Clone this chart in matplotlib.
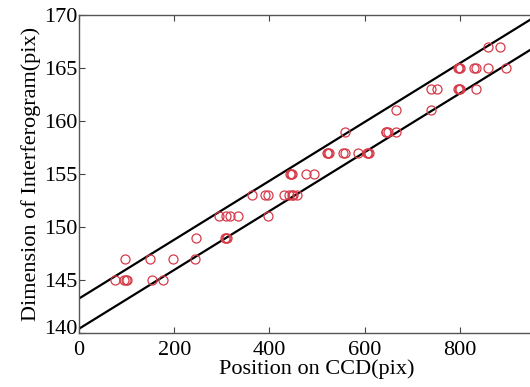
import numpy as np
import matplotlib.pyplot as plt
import matplotlib.transforms as mtransforms

plt.rcParams['font.family'] = ['Liberation Serif', 'DejaVu Serif']

# measured points (x = CCD position, y = interferogram size); repeats give the bold rings
pos_x = [75, 95, 98, 100, 153, 176,
         97, 149, 198, 244,
         245, 306, 309, 311,
         294, 308, 318, 333, 398,
         363, 391, 398, 431, 442, 447, 449, 459,
         443, 446, 448, 477, 494,
         520, 523, 525, 555, 558, 587, 604, 607, 610,
         559, 644, 646, 649, 666,
         665, 739,
         739, 753, 796, 799, 801, 833,
         796, 799, 801, 830, 833, 860, 898,
         860, 884]
pos_y = [145, 145, 145, 145, 145, 145,
         147, 147, 147, 147,
         149, 149, 149, 149,
         151, 151, 151, 151, 151,
         153, 153, 153, 153, 153, 153, 153, 153,
         155, 155, 155, 155, 155,
         157, 157, 157, 157, 157, 157, 157, 157, 157,
         159, 159, 159, 159, 159,
         161, 161,
         163, 163, 163, 163, 163, 163,
         165, 165, 165, 165, 165, 165, 165,
         167, 167]

# bounding fit lines
slope = 0.02775
upper_icpt = 143.25
lower_icpt = 140.4

fig = plt.figure(figsize=(5.30, 3.87), dpi=100)
ax = fig.add_axes([79/530, 54/387, 476/530, 318/387])

xx = np.array([0, 1000])
ax.plot(xx, slope*xx + upper_icpt, color='black', lw=1.6)
ax.plot(xx, slope*xx + lower_icpt, color='black', lw=1.6)
ax.plot(pos_x, pos_y, 'o', mfc='none', mec='#d63a48', mew=0.9, ms=6.5)

ax.set_xlim(0, 1000)
ax.set_ylim(140, 170)
ax.set_xticks([0, 200, 400, 600, 800])
ax.set_yticks([140, 145, 150, 155, 160, 165, 170])
ax.tick_params(direction='in', top=True, right=True, labelsize=16, length=4, color='#444444')
ax.tick_params(axis='x', pad=6)
ax.tick_params(axis='y', pad=1)
for s in ax.spines.values():
    s.set_color('#555555')
    s.set_linewidth(1.0)

# lift the bottom y label a little so it clears the "0"
lab = ax.get_yticklabels()[0]
lab.set_transform(lab.get_transform() + mtransforms.ScaledTranslation(0, 4/72, fig.dpi_scale_trans))

ax.set_xlabel('Position on CCD(pix)', fontsize=16, labelpad=-1)
ax.set_ylabel('Dimension of Interferogram(pix)', fontsize=16, labelpad=2)

fig.savefig('out.png', dpi=100)
